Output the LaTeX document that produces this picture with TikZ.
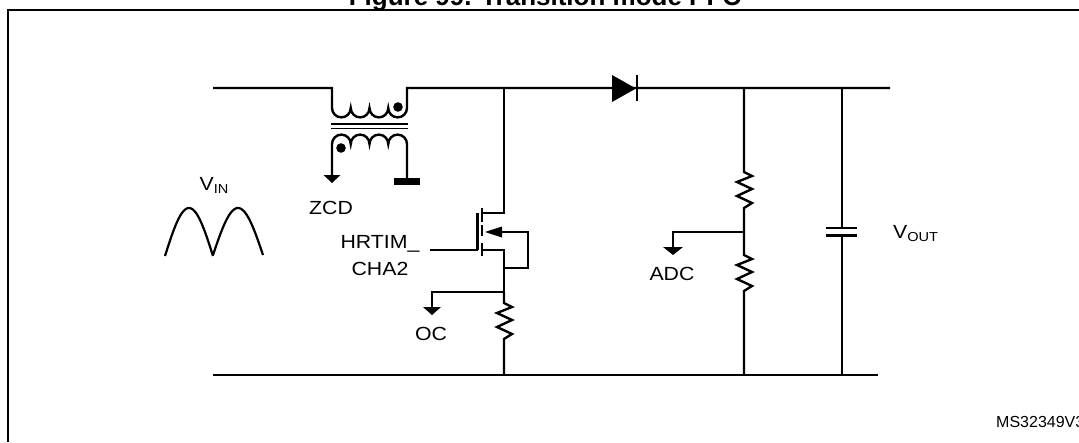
\documentclass[tikz,border=0pt]{standalone}
\usepackage{fontspec}
\setmainfont{Liberation Sans}
\newfontfamily\lblfont{Liberation Sans}[FakeStretch=1.12]
\begin{document}
\begin{tikzpicture}[x=1pt,y=-1pt,
  wire/.style={line width=2.4pt, line join=miter},
  thick plate/.style={line width=2.6pt},
  lbl/.style={inner sep=0pt, font=\lblfont\fontsize{19}{21}\selectfont},
  tip/.style={fill=black}]
\useasboundingbox (0,0) rectangle (1079,442);
\clip (0,0) rectangle (1079,442);

% frame and title
\coordinate (fb) at (7.5,442);
\coordinate (fc) at (7.5,10);
\coordinate (fr) at (1079,10);
\draw[line width=2pt] (fb) -- (fc) -- (fr);
\node[inner sep=0pt, anchor=base, font=\bfseries\fontsize{26}{28}\selectfont] (title) at (545,5) {Figure 99. Transition mode PFC};

% coordinates
\coordinate (topL) at (213,88);
\coordinate (t1) at (332,88);
\coordinate (p1) at (332,108);
\coordinate (t2) at (407,88);
\coordinate (topR) at (890,88);
\coordinate (nD) at (504,88);
\coordinate (nR) at (744,88);
\coordinate (nC) at (842,88);
\coordinate (botL) at (213,375);
\coordinate (botR) at (878,375);

% top rail with transformer primary
\draw[wire] (topL) -- (t1) -- (p1)
  arc[start angle=180,end angle=0,radius=9.375]
  arc[start angle=180,end angle=0,radius=9.375]
  arc[start angle=180,end angle=0,radius=9.375]
  arc[start angle=180,end angle=0,radius=9.375]
  -- (t2) -- (topR);
\fill (398,107) circle[radius=4.8];
% core
\draw[line width=1.8pt] (331,124) -- (408,124);
\draw[line width=1.8pt] (331,128.5) -- (408,128.5);
% secondary
\coordinate (s1) at (332,144);
\coordinate (s2) at (407,144);
\coordinate (zcdA) at (332,175);
\coordinate (gndA) at (407,178);
\draw[wire] (zcdA) -- (s1)
  arc[start angle=180,end angle=360,radius=9.375]
  arc[start angle=180,end angle=360,radius=9.375]
  arc[start angle=180,end angle=360,radius=9.375]
  arc[start angle=180,end angle=360,radius=9.375]
  -- (gndA);
\fill (341,148) circle[radius=4.8];
\fill[tip] (323.5,175) -- (340.5,175) -- (332,183) -- cycle;
\fill (394,178) rectangle (420,185);
\node[lbl, anchor=base] (zcd) at (331,214) {ZCD};

% diode
\fill (612,75) -- (612,102) -- (636,88.5) -- cycle;
\draw[thick plate] (637,75) -- (637,101);

% MOSFET
\coordinate (dr) at (504,213);
\coordinate (drc) at (482,213);
\draw[wire] (nD) -- (dr) -- (drc);
\draw[thick plate] (482,208) -- (482,222);
\draw[thick plate] (482,225) -- (482,236);
\draw[thick plate] (482,243) -- (482,256);
\draw[thick plate] (477.5,213) -- (477.5,250);
\coordinate (gate) at (430,250);
\coordinate (gp) at (477.5,250);
\draw[wire] (gate) -- (gp);
\coordinate (bodyA) at (500,232);
\coordinate (bodyR) at (528,232);
\coordinate (bodyB) at (528,268);
\coordinate (sj) at (504,268);
\draw[wire] (bodyA) -- (bodyR) -- (bodyB) -- (sj);
\fill[tip] (485,232) -- (502,226.5) -- (502,237.5) -- cycle;
\coordinate (sc) at (482,250);
\coordinate (ss) at (504,250);
\coordinate (nS) at (504,292);
\draw[wire] (sc) -- (ss) -- (sj) -- (nS);
\node[lbl, anchor=base] (hrtim) at (380,248) {HRTIM\_};
\node[lbl, anchor=base] (cha) at (380,275) {CHA2};

% OC branch
\coordinate (ocA) at (432,292);
\coordinate (ocB) at (432,307);
\draw[wire] (nS) -- (ocA) -- (ocB);
\fill[tip] (423,307) -- (441,307) -- (432,315) -- cycle;
\node[lbl, anchor=base] (oc) at (431,340) {OC};

% shunt resistor
\coordinate (rs1) at (504,303);
\coordinate (rsB) at (504,375);
\draw[wire] (nS) -- (rs1) -- ++(8,4) -- ++(-15,6) -- ++(15,7) -- ++(-15,7) -- ++(15,7) -- ++(-8,5) -- (rsB);

% divider
\coordinate (r1a) at (744,172);
\coordinate (nA) at (744,232);
\coordinate (r2a) at (744,255);
\coordinate (rdB) at (744,375);
\draw[wire] (nR) -- (r1a) -- ++(8,4) -- ++(-15,6) -- ++(15,7) -- ++(-15,7) -- ++(15,7) -- ++(-8,5) -- (nA)
  -- (r2a) -- ++(8,4) -- ++(-15,6) -- ++(15,7) -- ++(-15,7) -- ++(15,7) -- ++(-8,5) -- (rdB);
\coordinate (adcA) at (673,232);
\coordinate (adcB) at (673,247);
\draw[wire] (nA) -- (adcA) -- (adcB);
\fill[tip] (663,247) -- (683,247) -- (673,255) -- cycle;
\node[lbl, anchor=base] (adc) at (672,280) {ADC};

% capacitor
\coordinate (c1) at (842,228);
\coordinate (c2) at (842,235.5);
\coordinate (cB) at (842,375);
\draw[wire] (nC) -- (c1);
\draw[wire] (c2) -- (cB);
\draw[thick plate] (826,228) -- (857,228);
\draw[thick plate] (826,235.5) -- (857,235.5);
\node[lbl, anchor=base west] (vout) at (893,238) {V\raisebox{-3pt}{\fontsize{13}{13}\selectfont OUT}};

% bottom rail
\draw[wire] (botL) -- (botR);

% VIN waveform
\draw[line width=2.2pt] plot[domain=0:180, samples=40, smooth] ({165+\x/180*48},{256-48*sin(\x)});
\draw[line width=2.2pt] plot[domain=0:180, samples=40, smooth] ({213+\x/180*50},{255-47*sin(\x)});
\node[lbl, anchor=base] (vin) at (214,190) {V\raisebox{-3pt}{\fontsize{13}{13}\selectfont IN}};

% reference code
\node[inner sep=0pt, anchor=base west, font=\fontsize{16}{18}\selectfont] (ms) at (996,427) {MS32349V3};
\end{tikzpicture}
\end{document}
